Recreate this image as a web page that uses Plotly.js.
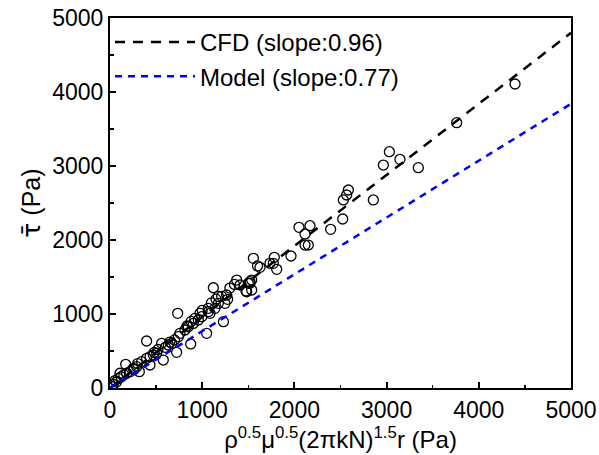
<!DOCTYPE html>
<html>
<head>
<meta charset="utf-8">
<script src="https://cdn.plot.ly/plotly-3.0.1.min.js"></script>
<style>html,body{margin:0;padding:0;background:#fff;}#chart{width:599px;height:455px;}</style>
</head>
<body>
<div id="chart"></div>
<script>
// Scatter data (x: rho^0.5 mu^0.5 (2 pi k N)^1.5 r, y: mean tau), Pa
const pointsX = [20,36,54,70,90,108,120,150,170,181,217,253,260,289,300,318,343,397,434,434,397,470,480,506,520,560,578,600,633,650,669,700,723,734,741,759,813,835,849,875,880,904,920,958,976,995,1000,1048,1066,1085,1066,1100,1121,1139,1150,1175,1175,1211,1230,1247,1265,1276,1300,1350,1374,1410,1475,1483,1500,1518,1518,1537,1537,1555,1600,1627,1735,1771,1782,1808,1963,2050,2115,2115,2151,2169,2393,2524,2531,2567,2585,2856,2965,3030,3145,3344,3760,4393];
const pointsY = [20,50,100,80,130,199,150,180,320,199,221,266,250,288,330,221,356,401,423,311,635,446,480,469,520,604,378,550,581,620,604,650,482,1009,694,739,784,838,828,595,900,873,940,919,1009,964,1050,739,1031,1009,1077,1150,1355,1077,1200,1144,1239,1239,896,1144,1257,1198,1350,1400,1459,1392,1311,1301,1414,1415,1437,1324,1459,1752,1650,1631,1685,1685,1766,1604,1784,2171,2081,1932,1932,2193,2144,2284,2541,2608,2676,2541,3013,3193,3090,2977,3585,4108];
// Fit lines
const lineX = [0, 5000];
const cfdY = [0, 4800];
const modelY = [0, 3840];
const seriesNames = ["CFD (slope:0.96)", "Model (slope:0.77)"];
const tickVals = [0, 1000, 2000, 3000, 4000, 5000];

const fam = "Arial, 'Liberation Sans', sans-serif";

const traces = [
  {x: pointsX, y: pointsY, type: "scatter", mode: "markers", showlegend: false,
   marker: {symbol: "circle-open", size: 10, color: "#000", line: {width: 1.3, color: "#000"}}},
  {x: lineX, y: cfdY, type: "scatter", mode: "lines", name: seriesNames[0],
   line: {color: "#000", width: 2.5, dash: "10px,8px"}},
  {x: lineX, y: modelY, type: "scatter", mode: "lines", name: seriesNames[1],
   line: {color: "#0000ff", width: 2.5, dash: "7px,6px"}}
];

const axisBase = {
  range: [0, 5000], tickvals: tickVals, ticktext: tickVals.map(String),
  showgrid: false, zeroline: false, showline: true, linecolor: "#000", linewidth: 2,
  mirror: true, ticks: "inside", ticklen: 6, tickwidth: 2, tickcolor: "#000",
  minor: {dtick: 500, ticks: "inside", ticklen: 3.5, tickwidth: 1.5, tickcolor: "#000"},
  tickfont: {family: fam, size: 23, color: "#000"}
};

const layout = {
  width: 599, height: 455,
  margin: {l: 110, r: 28, t: 18, b: 67},
  paper_bgcolor: "#fff", plot_bgcolor: "#fff",
  font: {family: fam, color: "#000"},
  showlegend: true,
  legend: {x: 0.0, y: 0.995, xanchor: "left", yanchor: "top", bgcolor: "rgba(0,0,0,0)",
           font: {family: fam, size: 24, color: "#000"}, itemwidth: 80, tracegroupgap: 0},
  xaxis: Object.assign({}, axisBase, {
    title: {text: "ρ<sup>0.5</sup>μ<sup>0.5</sup>(2πkN)<sup>1.5</sup>r (Pa)", font: {family: fam, size: 24, color: "#000"}, standoff: 2}
  }),
  yaxis: Object.assign({}, axisBase, {
    title: {text: "<span style='font-family:DejaVu Sans'>τ\u0304</span> (Pa)", font: {family: fam, size: 25, color: "#000"}, standoff: 4}
  })
};

Plotly.newPlot("chart", traces, layout, {displayModeBar: false, staticPlot: true});
</script>
</body>
</html>
